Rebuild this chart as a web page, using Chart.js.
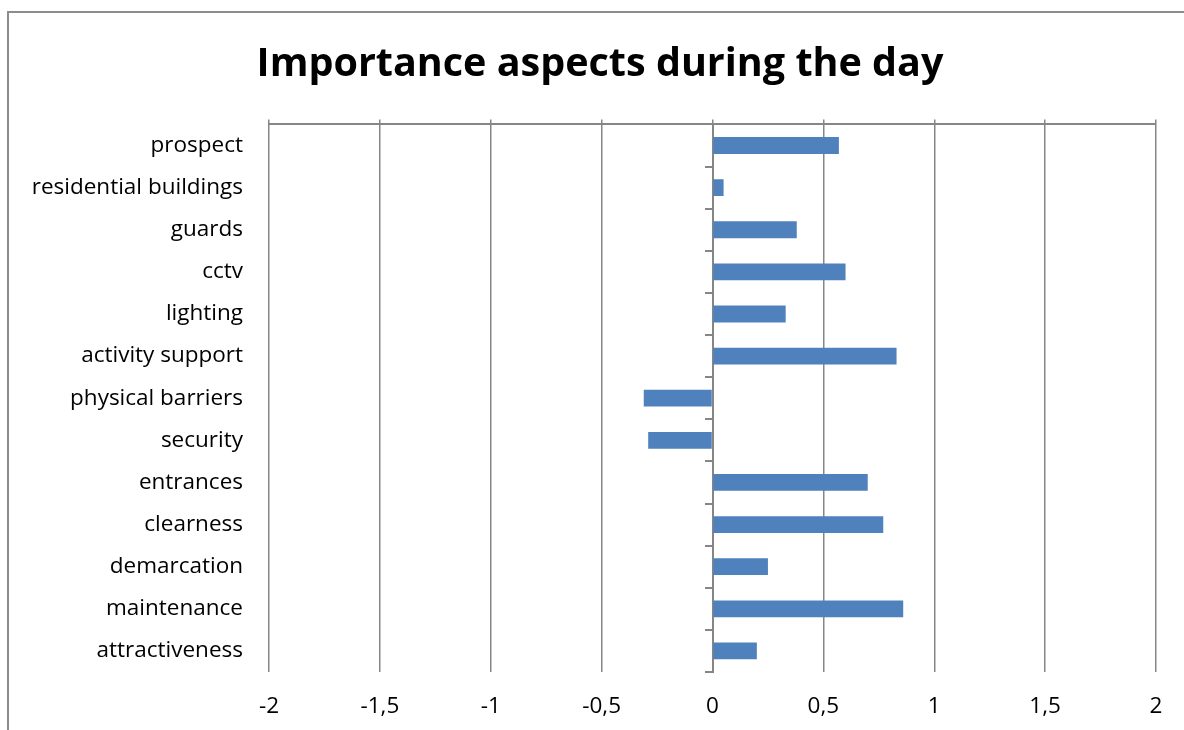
<!DOCTYPE html>
<html>
<head>
<meta charset="utf-8">
<script src="https://cdn.jsdelivr.net/npm/chart.js@4/dist/chart.umd.min.js"></script>
<style>
  html, body { margin: 0; padding: 0; background: #ffffff; }
  #wrap { position: relative; width: 1184px; height: 730px; overflow: hidden; }
  #frame { position: absolute; left: 7px; top: 11px; width: 1300px; height: 900px;
           border-left: 2px solid #8c8c8c; border-top: 2px solid #8c8c8c; }
  canvas { position: absolute; left: 0; top: 0; }
</style>
</head>
<body>
<div id="wrap">
  <div id="frame"></div>
  <canvas id="chart" width="1184" height="730"></canvas>
</div>
<script>
// Aspects, listed top to bottom
const categories = [
  'prospect', 'residential buildings', 'guards', 'cctv', 'lighting',
  'activity support', 'physical barriers', 'security', 'entrances',
  'clearness', 'demarcation', 'maintenance', 'attractiveness'
];
// Importance score for each aspect during the day
const importance = [0.57, 0.05, 0.38, 0.60, 0.33, 0.83, -0.31, -0.29, 0.70, 0.77, 0.25, 0.86, 0.20];
// Value axis ticks
const tickValues = [-2, -1.5, -1, -0.5, 0, 0.5, 1, 1.5, 2];
const tickLabels = ['-2', '-1,5', '-1', '-0,5', '0', '0,5', '1', '1,5', '2'];

const FONT = "'Open Sans', 'Liberation Sans', sans-serif";
const GRID = '#868686';
const LABEL_SIZE = 22.5;

function tickText(value) {
  const i = tickValues.findIndex(v => Math.abs(v - value) < 1e-9);
  return i >= 0 ? tickLabels[i] : '';
}

new Chart(document.getElementById('chart'), {
  type: 'bar',
  data: {
    labels: categories,
    datasets: [{
      data: importance,
      backgroundColor: '#4f81bd',
      borderWidth: 0,
      barPercentage: 0.4,
      categoryPercentage: 1.0,
      xAxisID: 'x',
      yAxisID: 'y'
    }]
  },
  options: {
    indexAxis: 'y',
    responsive: false,
    animation: false,
    devicePixelRatio: 1,
    layout: { padding: { left: 20, right: 4, top: 0, bottom: 0 } },
    plugins: {
      legend: { display: false },
      tooltip: { enabled: false },
      title: {
        display: true,
        text: 'Importance aspects during the day',
        color: '#000000',
        font: { family: FONT, size: 39.5, weight: 'bold' },
        padding: { top: 41, bottom: 31 }
      }
    },
    scales: {
      x: {
        type: 'linear',
        position: 'bottom',
        min: -2, max: 2,
        grid: { color: GRID, lineWidth: 1.5, drawTicks: false },
        border: { display: false },
        ticks: {
          stepSize: 0.5,
          padding: 21,
          color: '#000000',
          font: { family: FONT, size: LABEL_SIZE },
          callback: v => tickText(v)
        },
        afterFit: s => { s.height = 58; }
      },
      xTop: {
        type: 'linear',
        position: 'top',
        min: -2, max: 2,
        grid: { drawOnChartArea: false, color: GRID, lineWidth: 1.5, tickLength: 5 },
        border: { display: true, color: GRID, width: 2 },
        ticks: { stepSize: 0.5, display: false },
        afterFit: s => { s.height = 5; }
      },
      y: {
        type: 'category',
        position: 'left',
        grid: { display: false },
        border: { display: false },
        ticks: {
          padding: 18,
          color: '#000000',
          font: { family: FONT, size: LABEL_SIZE }
        },
        afterFit: s => { s.width = 249; }
      },
      yRightGap: {
        type: 'category',
        position: 'right',
        grid: { display: false },
        border: { display: false },
        ticks: { display: false },
        afterFit: s => { s.width = 24; }
      },
      yZero: {
        type: 'category',
        position: { x: 0 },
        offset: true,
        grid: { offset: true, drawOnChartArea: false, color: GRID, lineWidth: 2, tickLength: 7 },
        border: { display: true, color: GRID, width: 2 },
        ticks: { display: false }
      }
    }
  }
});
</script>
</body>
</html>
